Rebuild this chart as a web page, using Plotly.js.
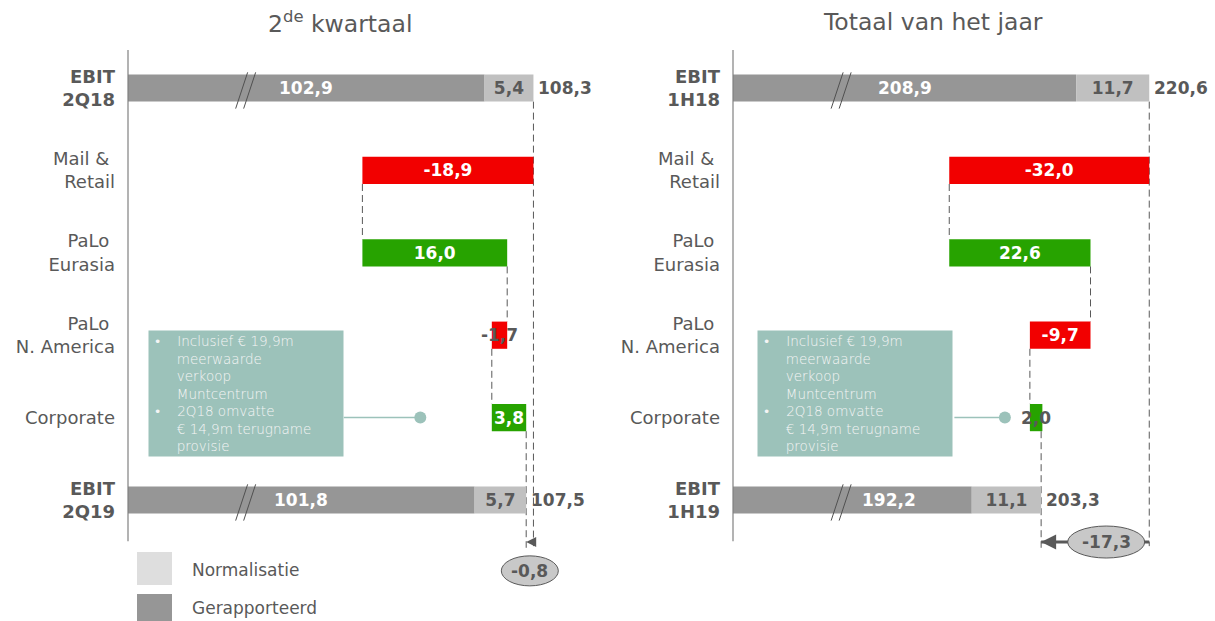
<!DOCTYPE html>
<html><head><meta charset="utf-8">
<script src="https://cdn.plot.ly/plotly-3.0.1.min.js"></script>
<style>html,body{margin:0;padding:0;background:#fff}</style>
</head><body>
<div id="chart" style="width:1215px;height:621px"></div>
<script>
// ---------- data ----------
const categoriesQ = ['<b>EBIT</b><br><b>2Q18</b>', 'Mail &&nbsp;<br>Retail', 'PaLo&nbsp;<br>Eurasia', 'PaLo&nbsp;<br>N. America', 'Corporate', '<b>EBIT</b><br><b>2Q19</b>'];
const categoriesH = ['<b>EBIT</b><br><b>1H18</b>', 'Mail &&nbsp;<br>Retail', 'PaLo&nbsp;<br>Eurasia', 'PaLo&nbsp;<br>N. America', 'Corporate', '<b>EBIT</b><br><b>1H19</b>'];
const reportedQ = [102.9, 101.8];
const normalisedQ = [5.4, 5.7];
const totalsQ = [108.3, 107.5];
const deltasQ = [-18.9, 16.0, -1.7, 3.8];
const diffQ = -0.8;
const reportedH = [208.9, 192.2];
const normalisedH = [11.7, 11.1];
const totalsH = [220.6, 203.3];
const deltasH = [-32.0, 22.6, -9.7, 2.0];
const diffH = -17.3;
const titles = ['2<sup>de</sup> kwartaal', 'Totaal van het jaar'];
const legendLabels = ['Normalisatie', 'Gerapporteerd'];
const calloutText = ['Inclusief € 19,9m', 'meerwaarde', 'verkoop', 'Muntcentrum', '2Q18 omvatte', '€ 14,9m terugname', 'provisie'];

// ---------- style ----------
const W = 1215, H = 621;
const C_REP = '#969696', C_NORM = '#c0c0c0', C_NEG = '#f20000', C_POS = '#27a300';
const C_TXT = '#595959', C_TEAL = '#9cc2ba';
const FONT = 'DejaVu Sans, Verdana, sans-serif';
const fmt = v => v.toFixed(1).replace('.', ',');
const HW = 0.165; // half bar width in row units
const yRange = [(H - 88) / 82.4, -88 / 82.4];
const DASH = '7px,4px';

const traces = [];
const shapes = [];
const annotations = [];

function panel(o) {
  const idx = o.idx;
  const xa = idx === 0 ? 'x' : 'x2';
  const ya = idx === 0 ? 'y' : 'y2';
  const rep = o.rep, norm = o.norm, tot = o.tot, deltas = o.deltas, axMin = o.axMin;
  const barFont = (c) => ({color: c, size: 17, family: FONT, weight: 'bold'});
  // reported (axis is broken: bar drawn from the axis start)
  traces.push({type: 'bar', orientation: 'h', xaxis: xa, yaxis: ya, y: [0, 5],
    base: [axMin, axMin], x: rep.map(v => v - axMin), width: 2 * HW,
    marker: {color: C_REP}, textposition: 'none',
    hoverinfo: 'skip', showlegend: false, cliponaxis: false});
  [0, 5].forEach((r, i) => annotations.push({xref: xa, yref: ya, x: (axMin + rep[i]) / 2, y: r, xshift: o.repShift[i],
    text: '<b>' + fmt(rep[i]) + '</b>', showarrow: false, xanchor: 'center', yanchor: 'middle', font: barFont('#ffffff')}));
  // normalisation
  traces.push({type: 'bar', orientation: 'h', xaxis: xa, yaxis: ya, y: [0, 5],
    base: rep, x: norm, width: 2 * HW,
    marker: {color: C_NORM}, text: norm.map(fmt), textposition: 'inside', insidetextanchor: 'middle',
    textangle: 0, constraintext: 'none', textfont: barFont(C_TXT),
    hoverinfo: 'skip', showlegend: false, cliponaxis: false});
  // deltas
  const bases = [];
  let cur = tot[0];
  deltas.forEach(d => { bases.push(cur); cur += d; });
  traces.push({type: 'bar', orientation: 'h', xaxis: xa, yaxis: ya, y: [1, 2, 3, 4],
    base: bases, x: deltas, width: 2 * HW,
    marker: {color: deltas.map(d => d < 0 ? C_NEG : C_POS)},
    text: deltas.map(fmt), textposition: 'inside', insidetextanchor: 'middle', textangle: 0, constraintext: 'none',
    textfont: {color: deltas.map(d => Math.abs(d) < 3 ? C_TXT : '#ffffff'), size: 17, family: FONT, weight: 'bold'},
    hoverinfo: 'skip', showlegend: false, cliponaxis: false});
  // totals outside labels
  [0, 5].forEach((r, i) => annotations.push({xref: xa, yref: ya, x: tot[i], y: r, text: '<b>' + fmt(tot[i]) + '</b>',
    xanchor: 'left', yanchor: 'middle', xshift: 3, showarrow: false, font: {size: 17, color: C_TXT, family: FONT}}));
  // axis line
  shapes.push({type: 'line', xref: xa + ' domain', yref: ya, x0: 0, x1: 0, y0: -0.46, y1: 5.5,
    line: {color: '#808080', width: 1.2}});
  // connectors
  const dash = {color: C_TXT, width: 1, dash: DASH};
  shapes.push({type: 'line', layer: 'below', xref: xa, yref: ya, x0: tot[0], x1: tot[0], y0: HW, y1: 5.56, line: dash});
  let run = tot[0];
  deltas.forEach((d, i) => {
    run += d;
    if (i < 3) shapes.push({type: 'line', layer: 'below', xref: xa, yref: ya, x0: run, x1: run, y0: i + 1 + HW, y1: i + 2 - HW, line: dash});
  });
  shapes.push({type: 'line', layer: 'below', xref: xa, yref: ya, x0: tot[1], x1: tot[1], y0: 4 + HW, y1: 5.58, line: dash});
  // axis break marks
  [0, 5].forEach(r => {
    [[-10, 2], [-2, 10]].forEach(s => shapes.push({type: 'line', xref: xa, yref: ya, xsizemode: 'pixel', xanchor: o.breakX,
      x0: s[0], x1: s[1], y0: r + 0.25, y1: r - 0.19, line: {color: '#505050', width: 1}}));
  });
  // difference arrow: shaft as a shape (under the ellipse), head as an annotation arrow
  const aw = idx === 0 ? 2 : 3;
  if (idx === 1) {
    shapes.push({type: 'line', xref: xa, yref: ya, x0: tot[0], x1: tot[1], y0: 5.51, y1: 5.51,
      line: {color: C_TXT, width: aw}});
  }
  annotations.push({xref: xa, yref: ya, x: tot[1], y: 5.51, axref: xa, ayref: ya,
    ax: idx === 0 ? tot[0] : tot[1] + (tot[0] - tot[1]) * 0.15, ay: 5.51, text: '',
    showarrow: true, arrowhead: 2, arrowsize: 1, arrowwidth: aw, arrowcolor: C_TXT, standoff: 0});
  const mid = (tot[0] + tot[1]) / 2;
  const e = o.ellipse;
  shapes.push({type: 'circle', xref: xa, yref: ya, xsizemode: 'pixel', ysizemode: 'pixel', xanchor: mid, yanchor: e.y,
    x0: e.dx - e.w / 2, x1: e.dx + e.w / 2, y0: -e.h / 2, y1: e.h / 2,
    fillcolor: '#c8c8c8', line: {color: C_TXT, width: 1}});
  annotations.push({xref: xa, yref: ya, x: mid, y: e.y, xshift: e.dx, text: '<b>' + fmt(o.diff) + '</b>', showarrow: false,
    font: {size: 17, color: C_TXT, family: FONT}});
  // callout
  const nb = n => '&nbsp;'.repeat(n);
  const lines = calloutText.map((t, i) => (i === 0 || i === 4) ? nb(1) + '•' + nb(4) + t : nb(6) + t);
  annotations.push({xref: 'paper', yref: 'paper', x: o.boxX / W, y: 1 - 330 / H, xanchor: 'left', yanchor: 'top',
    width: 190, height: 121, borderpad: 2, bgcolor: C_TEAL, align: 'left', valign: 'top', showarrow: false,
    text: lines.join('<br>'), font: {size: 13.5, color: '#f5f5f5', family: FONT, weight: 300}});
  annotations.push({xref: xa, yref: ya, x: o.dotX, y: 4, text: '', showarrow: true, ax: -o.dotLen, ay: 0,
    arrowhead: 6, arrowsize: 2, arrowwidth: 1.5, arrowcolor: C_TEAL, standoff: 0});
  // title
  annotations.push({xref: 'paper', yref: 'paper', x: o.titleX / W, y: 1 - 22 / H, xanchor: 'center', yanchor: 'middle',
    text: titles[idx], showarrow: false, font: {size: 23.5, color: C_TXT, family: FONT}});
}

panel({idx: 0, rep: reportedQ, norm: normalisedQ, tot: totalsQ, deltas: deltasQ, diff: diffQ, axMin: 63.5, repShift: [0, 0],
  breakX: 76.5, dotX: 95.8, dotLen: 78, boxX: 148, titleX: 340, ellipse: {y: 5.86, dx: 0, w: 57, h: 30}});
panel({idx: 1, rep: reportedH, norm: normalisedH, tot: totalsH, deltas: deltasH, diff: diffH, axMin: 154, repShift: [0, 37],
  breakX: 171.3, dotX: 197.5, dotLen: 52, boxX: 757, titleX: 933, ellipse: {y: 5.51, dx: 11, w: 77, h: 32}});

// legend swatches
shapes.push({type: 'rect', xref: 'paper', yref: 'paper', x0: 137 / W, x1: 172 / W, y0: 1 - 585 / H, y1: 1 - 552 / H, fillcolor: '#dedede', line: {width: 0}});
shapes.push({type: 'rect', xref: 'paper', yref: 'paper', x0: 137 / W, x1: 172 / W, y0: 0, y1: 1 - 594 / H, fillcolor: C_REP, line: {width: 0}});
annotations.push({xref: 'paper', yref: 'paper', x: 190 / W, y: 1 - 570 / H, xanchor: 'left', yanchor: 'middle', text: legendLabels[0], showarrow: false, font: {size: 17, color: C_TXT, family: FONT}});
annotations.push({xref: 'paper', yref: 'paper', x: 190 / W, y: 1 - 608 / H, xanchor: 'left', yanchor: 'middle', text: legendLabels[1], showarrow: false, font: {size: 17, color: C_TXT, family: FONT}});

const yAxisBase = {domain: [0, 1], range: yRange, tickvals: [0, 1, 2, 3, 4, 5],
  showgrid: false, zeroline: false, showline: false, ticks: '', ticklabelstandoff: 12,
  tickfont: {size: 18, color: C_TXT, family: FONT}, fixedrange: true};

const layout = {
  width: W, height: H, margin: {l: 0, r: 0, t: 0, b: 0}, paper_bgcolor: '#fff', plot_bgcolor: 'rgba(0,0,0,0)',
  barmode: 'overlay', showlegend: false, font: {family: FONT, color: C_TXT},
  xaxis: {domain: [128 / W, 600 / W], range: [63.5, 63.5 + 472 / 9.05], visible: false, fixedrange: true},
  xaxis2: {domain: [733 / W, 1205 / W], range: [154, 154 + 472 / 6.25], visible: false, fixedrange: true},
  yaxis: Object.assign({anchor: 'x', ticktext: categoriesQ}, yAxisBase),
  yaxis2: Object.assign({anchor: 'x2', ticktext: categoriesH}, yAxisBase),
  shapes: shapes, annotations: annotations
};

Plotly.newPlot('chart', traces, layout, {staticPlot: true});
</script>
</body></html>
